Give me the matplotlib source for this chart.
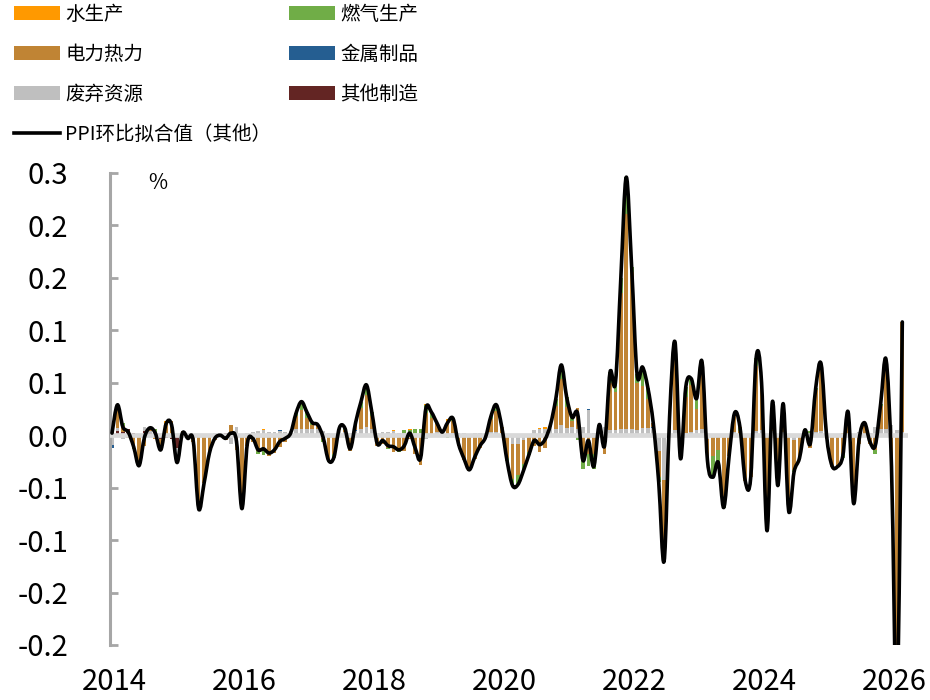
import numpy as np
import matplotlib
matplotlib.use('Agg')
import matplotlib.pyplot as plt
from matplotlib.path import Path
from matplotlib.patches import PathPatch, Patch
from matplotlib.lines import Line2D

plt.rcParams['font.family'] = ['Noto Sans CJK SC', 'DejaVu Sans']

# ---------------- data (monthly, 2014-01 .. 2026-03) ----------------
year_labels = ['2014', '2016', '2018', '2020', '2022', '2024', '2026']
ytick_values = [-0.20, -0.15, -0.10, -0.05, 0.0, 0.05, 0.10, 0.15, 0.20, 0.25]
ytick_labels = ['-0.2', '-0.2', '-0.1', '-0.1', '0.0', '0.1', '0.1', '0.2', '0.2', '0.3']

series_names = ['水生产', '燃气生产', '电力热力', '金属制品', '废弃资源', '其他制造']
line_name = 'PPI环比拟合值（其他）'

fit_line = [
    0.002, 0.029, 0.008, 0.003, -0.011, -0.029, -0.002, 0.007, 0.002, -0.014, 0.011, 0.010,
    -0.026, 0.002, -0.003, -0.005, -0.070, -0.046, -0.017, -0.003, 0.000, -0.003, 0.002, -0.006,
    -0.070, -0.008, -0.003, -0.014, -0.013, -0.017, -0.014, -0.006, -0.003, 0.002, 0.021, 0.032,
    0.022, 0.012, 0.010, -0.002, -0.024, -0.021, 0.007, 0.007, -0.013, 0.012, 0.032, 0.048,
    0.022, -0.008, -0.005, -0.010, -0.011, -0.014, -0.010, 0.002, -0.012, -0.022, 0.026, 0.022,
    0.012, 0.003, 0.012, 0.016, -0.008, -0.022, -0.033, -0.021, -0.010, -0.002, 0.018, 0.029,
    0.008, -0.025, -0.048, -0.047, -0.034, -0.019, -0.005, -0.009, -0.004, 0.010, 0.035, 0.067,
    0.036, 0.017, 0.021, -0.024, -0.005, -0.030, 0.010, -0.010, 0.060, 0.050, 0.150, 0.246,
    0.160, 0.058, 0.065, 0.045, 0.011, -0.045, -0.120, 0.017, 0.089, -0.022, 0.046, 0.054,
    0.035, 0.070, -0.024, -0.040, -0.026, -0.069, -0.020, 0.021, 0.008, -0.044, -0.040, 0.074,
    0.050, -0.091, 0.032, -0.048, 0.030, -0.072, -0.035, -0.022, 0.005, -0.008, 0.045, 0.068,
    0.000, -0.029, -0.030, -0.020, 0.022, -0.065, -0.005, 0.012, -0.006, -0.010, 0.030, 0.072,
    -0.030, -0.260, 0.108,
]

elec = [
    0.014, 0.022, 0.006, -0.003, -0.012, -0.027, -0.010, 0.003, -0.004, -0.010, 0.012, 0.014,
    0.000, 0.004, -0.002, -0.006, -0.068, -0.044, -0.018, -0.005, -0.002, -0.003, 0.010, -0.014,
    -0.065, -0.010, -0.006, -0.015, -0.015, -0.020, -0.017, -0.011, -0.006, -0.002, 0.012, 0.018,
    0.010, 0.004, 0.004, -0.004, -0.024, -0.018, 0.001, 0.002, -0.015, 0.006, 0.020, 0.030,
    0.012, -0.010, -0.008, -0.012, -0.016, -0.015, -0.015, -0.004, -0.018, -0.028, 0.021, 0.015,
    0.008, 0.001, 0.013, 0.012, -0.010, -0.024, -0.034, -0.023, -0.012, -0.004, 0.012, 0.020,
    0.006, -0.022, -0.034, -0.030, -0.022, -0.014, -0.010, -0.016, -0.012, 0.002, 0.022, 0.044,
    0.020, 0.006, 0.020, -0.020, -0.018, -0.018, 0.004, -0.018, 0.045, 0.036, 0.130, 0.205,
    0.150, 0.045, 0.040, 0.028, 0.004, -0.025, -0.077, 0.010, 0.075, -0.020, 0.034, 0.045,
    0.020, 0.064, -0.020, -0.018, -0.014, -0.060, -0.018, 0.018, 0.004, -0.042, -0.040, 0.062,
    0.045, -0.085, 0.026, -0.040, 0.024, -0.070, -0.028, -0.020, 0.002, -0.012, 0.040, 0.062,
    -0.004, -0.030, -0.028, -0.018, 0.020, -0.060, -0.008, 0.010, -0.008, -0.014, 0.022, 0.066,
    -0.040, -0.265, 0.105,
]

gas = [
    0, 0, 0.003, 0, -0.001, -0.002, 0, 0, 0.003, 0, 0, 0,
    0, 0, 0, 0, 0, 0, 0, 0, 0, 0, 0, 0,
    -0.005, 0, 0, -0.003, -0.004, 0, 0, 0, 0, 0, 0.003, 0.008,
    0.006, 0.002, 0, -0.002, -0.002, -0.004, 0.001, 0.002, 0, 0.002, 0.006, 0.010,
    0.004, 0, 0, -0.001, 0, -0.001, 0.003, 0.004, 0.004, 0.004, 0.008, 0.004,
    0.001, 0, -0.003, 0.002, 0, 0, 0, 0, 0, 0, 0.003, 0.006,
    0, -0.003, -0.006, -0.009, -0.007, -0.003, 0, 0, 0, 0, 0.007, 0.012,
    0.009, 0.003, -0.005, -0.012, -0.011, -0.014, 0.002, 0, 0.010, 0.009, 0.014, 0.035,
    0.004, 0.008, 0.018, 0.010, 0, -0.005, 0, 0.001, 0.009, -0.003, 0.010, 0.006,
    0.010, 0, 0, -0.020, -0.012, -0.007, 0, 0, 0.003, 0, 0, 0.008,
    0, -0.006, 0, -0.008, 0, 0, -0.002, 0, 0.004, 0.002, 0.002, 0,
    0, 0.001, 0, -0.004, 0, -0.005, 0, 0, 0, -0.004, 0.002, 0,
    0, 0, 0,
]

waste = [
    -0.009, 0.003, -0.004, 0, 0, 0, 0.004, 0.002, 0.003, 0, 0, 0,
    -0.012, 0, 0, 0, -0.002, -0.002, 0.001, 0.002, 0.002, -0.002, -0.008, 0.008,
    0, 0.002, 0.003, 0.004, 0.005, 0.003, 0.003, 0.004, 0.003, 0.004, 0.006, 0.006,
    0.006, 0.006, 0.006, 0.004, 0.002, 0.001, 0.005, 0.003, 0.002, 0.004, 0.006, 0.008,
    0.006, 0.002, 0.003, 0.003, 0.004, 0.002, 0.002, 0.001, 0.002, 0.002, -0.004, 0.001,
    0.003, 0.002, 0, 0.002, 0.002, 0.002, 0.001, 0.002, 0.002, 0.002, 0.003, 0.003,
    0.002, 0, -0.008, -0.008, -0.005, -0.002, 0.005, 0.006, 0.006, 0.008, 0.006, 0.010,
    0.007, 0.008, 0.006, 0.008, 0.024, 0.002, 0.004, 0.008, 0.005, 0.005, 0.006, 0.006,
    0.006, 0.005, 0.007, 0.007, 0.007, -0.015, -0.043, 0.006, 0.005, 0.001, 0.002, 0.003,
    0.005, 0.006, -0.004, -0.002, 0, -0.002, -0.002, 0.003, 0, -0.002, 0, 0.004,
    0.005, 0, 0.004, 0, 0.003, -0.002, -0.005, -0.002, -0.001, 0.002, 0.003, 0.004,
    0.004, 0, -0.002, 0, 0, 0, 0.003, 0, 0.002, 0.008, 0.006, 0.006,
    0.010, 0.005, 0.003,
]

water = [
    0, 0, 0, 0, 0, 0, 0, 0, 0, 0, 0.002, 0,
    0, 0, 0, 0, 0, 0, 0, 0, 0, 0, 0, 0,
    0, 0, 0, 0, 0.001, 0, 0, 0, 0, 0, 0, 0,
    0, 0, 0, 0, 0, 0, 0, 0, 0, 0, 0, 0,
    0, 0, 0, 0, 0.001, 0, 0, 0.001, 0, 0, 0.001, 0.002,
    0, 0, 0.002, 0, 0, 0, 0, 0, 0, 0, 0, 0,
    0, 0, 0, 0, 0, 0, 0, 0.001, 0.002, 0, 0, 0.001,
    0, 0, 0, 0, 0, 0, 0, 0, 0, 0, 0, 0,
    0, 0, 0, 0, 0, 0, 0, 0, 0, 0, 0, 0,
    0, 0, 0, 0, 0, 0, 0, 0, 0.001, 0, 0, 0,
    0, 0, 0.002, 0, 0.003, 0, 0, 0, 0, 0, 0, 0.002,
    0, 0, 0, 0.002, 0.002, 0, 0, 0.002, 0, 0, 0, 0,
    0, 0, 0,
]

metal = [
    -0.003, 0, 0, 0, 0, 0, 0, 0, 0, 0, 0, 0,
    -0.002, 0, 0, 0, 0, 0, 0, 0, 0, 0, 0, 0,
    0, 0, 0, 0, 0, 0, 0, 0.001, 0, 0, 0, 0,
    0, 0, 0, 0, 0, 0, 0, 0, 0, 0.001, 0, 0,
    0, 0, 0, 0, 0, 0, 0, 0, 0, 0, 0, 0,
    0, 0, 0, 0, 0, 0, 0, 0, 0, 0, 0, 0,
    0, 0, 0, 0, 0, 0, 0, 0, 0, 0, 0, 0,
    0, 0, 0, 0, 0.001, 0, 0, 0, 0, 0, 0, 0,
    0, 0, 0, 0, 0.001, 0, 0, 0, 0, 0, 0, 0,
    0, 0, 0, 0, 0, 0, 0, 0, 0, 0, 0, 0,
    0, 0, 0, 0, 0, 0, 0, 0, 0, 0, 0, 0,
    0, 0, 0, 0, 0, 0, 0, 0, 0, 0, 0, 0,
    0, 0, 0,
]

other = [
    0, 0.004, 0.003, 0.006, 0.002, 0, 0.004, 0.002, 0, -0.004, -0.003, -0.004,
    -0.012, -0.002, -0.001, 0.001, 0, 0, 0, 0, 0, 0.002, 0, 0,
] + [0] * 123

colors = {
    '水生产': '#FF9900',
    '燃气生产': '#70AD47',
    '电力热力': '#C08434',
    '金属制品': '#255E91',
    '废弃资源': '#BFBFBF',
    '其他制造': '#632523',
}

# ---------------- figure ----------------
W, H = 930, 700
fig = plt.figure(figsize=(W / 100, H / 100), dpi=100)
ax = fig.add_axes([110 / W, 55 / H, 798 / W, 472 / H])

n = len(fit_line)
x = np.arange(n)

# stacking order from zero outward
stack = [('其他制造', other), ('废弃资源', waste), ('金属制品', metal),
         ('电力热力', elec), ('燃气生产', gas), ('水生产', water)]
pos = np.zeros(n)
neg = np.zeros(n)
for name, vals in stack:
    v = np.asarray(vals, dtype=float)
    bottom = np.where(v >= 0, pos, neg)
    ax.bar(x, v, width=0.68, bottom=bottom, color=colors[name], linewidth=0, zorder=2)
    pos += np.clip(v, 0, None)
    neg += np.clip(v, None, 0)

# zero axis line (light gray band)
ax.axhline(0, color='#D9D9D9', lw=3.4, zorder=3)

# smoothed line (cubic Bezier through the monthly points)
ys = np.asarray(fit_line, dtype=float)
verts = [(x[0], ys[0])]
codes = [Path.MOVETO]
for i in range(n - 1):
    p0 = i - 1 if i > 0 else i
    p3 = i + 2 if i + 2 < n else i + 1
    c1 = (x[i] + (x[i + 1] - x[p0]) / 6.0, ys[i] + (ys[i + 1] - ys[p0]) / 6.0)
    c2 = (x[i + 1] - (x[p3] - x[i]) / 6.0, ys[i + 1] - (ys[p3] - ys[i]) / 6.0)
    verts += [c1, c2, (x[i + 1], ys[i + 1])]
    codes += [Path.CURVE4] * 3
ax.add_patch(PathPatch(Path(verts, codes), facecolor='none', edgecolor='black',
                       lw=2.6, zorder=4, joinstyle='round', capstyle='round'))

ax.set_xlim(-0.37, 147.05)
ax.set_ylim(-0.2, 0.25)

ax.set_yticks(ytick_values)
ax.set_yticklabels(ytick_labels)
ax.set_xticks([12 * k + 0.5 for k in range(0, 13, 2)])
ax.set_xticklabels(year_labels)

for s in ['top', 'right', 'bottom']:
    ax.spines[s].set_visible(False)
ax.spines['left'].set_color('#A6A6A6')
ax.spines['left'].set_linewidth(2.2)

ax.tick_params(axis='y', direction='in', length=6, width=2, color='#A6A6A6',
               pad=30, labelsize=21, labelcolor='black')
ax.tick_params(axis='x', length=0, pad=16, labelsize=21, labelcolor='black')

fig.text(158 / W, 1 - 183 / H, '%', ha='center', va='center', fontsize=15)

# legend
handles = [Patch(facecolor=colors['水生产']), Patch(facecolor=colors['电力热力']),
           Patch(facecolor=colors['废弃资源']), Line2D([], [], color='black', lw=2.6),
           Patch(facecolor=colors['燃气生产']), Patch(facecolor=colors['金属制品']),
           Patch(facecolor=colors['其他制造'])]
labels = ['水生产', '电力热力', '废弃资源', line_name, '燃气生产', '金属制品', '其他制造']
fig.legend(handles, labels, ncol=2, loc='upper left', bbox_to_anchor=(14 / W, 1 - 4 / H),
           frameon=False, fontsize=14, handlelength=2.37, handleheight=0.72,
           handletextpad=0.27, labelspacing=0.97, columnspacing=0.9,
           borderpad=0, borderaxespad=0)

fig.savefig('out.png', dpi=100)
